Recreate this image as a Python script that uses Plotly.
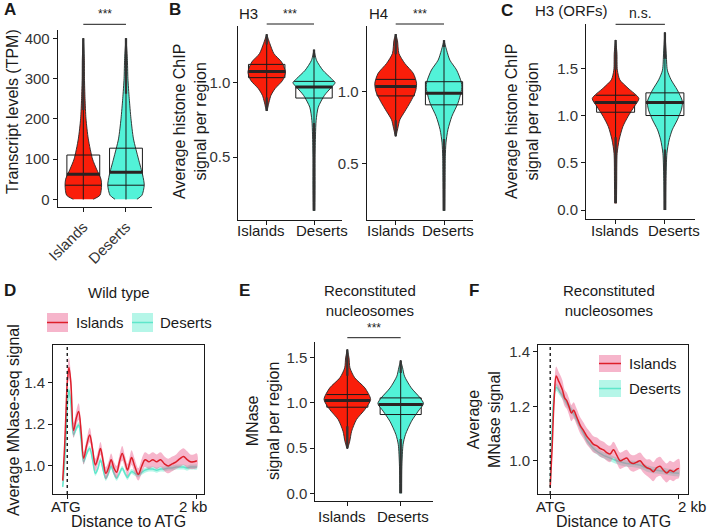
import numpy as np
import plotly.graph_objects as go

W, H = 709, 529
FONT = "Liberation Sans, Arial, sans-serif"
RED = "#FA1E0A"
TEAL = "#52F2D8"
LRED = "#DD1F2A"
LTEAL = "#5FE6CB"
RIB_RED = "rgba(236,90,140,0.45)"
RIB_TEAL = "rgba(90,235,205,0.45)"

CATS = ["Islands", "Deserts"]
PROFILE_TICKS = ["ATG", "2 kb"]

# ---------------- Panel A : transcript levels ----------------
A_ISL_Y = [0, 10, 35, 50, 75, 100, 150, 200, 250, 300, 350, 400]
A_ISL_DENS = [0.52, 0.87, 0.95, 0.92, 0.69, 0.48, 0.26, 0.14, 0.09, 0.06, 0.05, 0.0]
A_DES_Y = [0, 10, 35, 60, 100, 150, 200, 250, 300, 350, 400]
A_DES_DENS = [0.57, 0.83, 0.95, 0.87, 0.65, 0.39, 0.26, 0.17, 0.10, 0.07, 0.0]
# [min, lower fence, q1, median, q3, upper fence, max]
A_ISL_BOX = [0, 0, 35, 62, 110, 222, 400]
A_DES_BOX = [0, 0, 35, 67, 127, 262, 400]

# ---------------- Panel B : H3 ----------------
H3_ISL_Y = [0.81, 0.87, 0.915, 0.96, 1.016, 1.072, 1.139, 1.195, 1.262, 1.325]
H3_ISL_DENS = [0.0, 0.11, 0.20, 0.39, 0.75, 0.88, 0.70, 0.34, 0.15, 0.0]
H3_DES_Y = [0.141, 0.3, 0.5, 0.65, 0.747, 0.836, 0.915, 0.97, 1.0, 1.027, 1.083, 1.15, 1.222]
H3_DES_DENS = [0.04, 0.05, 0.05, 0.07, 0.10, 0.20, 0.49, 0.82, 0.99, 0.82, 0.42, 0.12, 0.0]
H3_ISL_BOX = [0.81, 0.90, 1.034, 1.076, 1.123, 1.257, 1.325]
H3_DES_BOX = [0.141, 0.73, 0.897, 0.971, 1.009, 1.17, 1.222]

# ---------------- Panel B : H4 ----------------
H4_ISL_Y = [0.689, 0.747, 0.804, 0.862, 0.931, 1.0, 1.058, 1.127, 1.196, 1.265, 1.357, 1.40]
H4_ISL_DENS = [0.0, 0.10, 0.19, 0.42, 0.69, 0.91, 0.96, 0.81, 0.42, 0.15, 0.08, 0.0]
H4_DES_Y = [0.171, 0.4, 0.55, 0.643, 0.735, 0.827, 0.919, 1.0, 1.03, 1.069, 1.15, 1.219, 1.288, 1.357]
H4_DES_DENS = [0.04, 0.05, 0.06, 0.09, 0.18, 0.36, 0.64, 0.79, 0.82, 0.79, 0.58, 0.27, 0.12, 0.0]
H4_ISL_BOX = [0.689, 0.80, 0.97, 1.035, 1.085, 1.26, 1.40]
H4_DES_BOX = [0.171, 0.67, 0.908, 0.988, 1.069, 1.31, 1.357]

# ---------------- Panel C : H3 (ORFs) ----------------
C_ISL_Y = [0.072, 0.3, 0.6, 0.742, 0.884, 0.99, 1.095, 1.18, 1.29, 1.378, 1.48, 1.66, 1.80]
C_ISL_DENS = [0.04, 0.05, 0.07, 0.16, 0.33, 0.56, 0.84, 1.05, 0.56, 0.19, 0.08, 0.06, 0.0]
C_DES_Y = [0.0, 0.3, 0.6, 0.742, 0.848, 0.954, 1.06, 1.148, 1.27, 1.378, 1.48, 1.66, 1.88]
C_DES_DENS = [0.04, 0.05, 0.09, 0.19, 0.33, 0.56, 0.74, 0.79, 0.56, 0.28, 0.11, 0.06, 0.0]
C_ISL_BOX = [0.072, 0.77, 1.035, 1.138, 1.215, 1.485, 1.80]
C_DES_BOX = [0.0, 0.64, 1.0, 1.138, 1.24, 1.60, 1.88]

# ---------------- Panel E : reconstituted nucleosomes ----------------
E_ISL_Y = [0.494, 0.576, 0.686, 0.815, 0.926, 1.037, 1.166, 1.277, 1.387, 1.498, 1.59]
E_ISL_DENS = [0.0, 0.10, 0.18, 0.38, 0.73, 0.97, 0.73, 0.31, 0.11, 0.07, 0.0]
E_DES_Y = [0.0, 0.3, 0.54, 0.65, 0.797, 0.908, 0.993, 1.055, 1.166, 1.295, 1.387, 1.469]
E_DES_DENS = [0.04, 0.05, 0.10, 0.20, 0.45, 0.73, 0.95, 0.81, 0.44, 0.16, 0.08, 0.0]
E_ISL_BOX = [0.494, 0.74, 0.952, 1.026, 1.092, 1.30, 1.59]
E_DES_BOX = [0.0, 0.60, 0.871, 0.982, 1.055, 1.33, 1.469]

# ---------------- Panel D : wild type MNase profile ----------------
D_X = [-70, -40, -15, 0, 26, 55, 98, 140, 176, 215, 253, 300, 346, 390, 434, 475, 512, 555, 595,
       636, 677, 720, 762, 805, 848, 890, 930, 960, 993, 1040, 1096, 1150, 1200, 1260, 1320, 1380,
       1440, 1500, 1560, 1620, 1680, 1740, 1794, 1850, 1900, 1950, 2000]
D_ISL = [0.93, 1.10, 1.30, 1.40, 1.47, 1.40, 1.17, 1.23, 1.26, 1.16, 1.037, 1.10, 1.148, 1.08,
         1.005, 1.04, 1.084, 1.02, 0.965, 0.99, 1.03, 0.99, 0.97, 1.02, 1.06, 1.02, 0.98, 1.01,
         1.04, 1.0, 0.96, 1.0, 1.03, 1.02, 1.03, 1.02, 1.03, 1.01, 1.0, 1.01, 1.02, 1.035, 1.045,
         1.03, 1.02, 1.02, 1.025]
D_ISL_SE = [0.02, 0.03, 0.04, 0.045, 0.05, 0.045, 0.035, 0.035, 0.04, 0.035, 0.03, 0.03, 0.035,
            0.03, 0.03, 0.03, 0.03, 0.03, 0.03, 0.03, 0.03, 0.03, 0.03, 0.03, 0.035, 0.03, 0.03,
            0.03, 0.035, 0.035, 0.03, 0.035, 0.035, 0.035, 0.035, 0.035, 0.035, 0.035, 0.035,
            0.035, 0.035, 0.04, 0.04, 0.04, 0.035, 0.035, 0.035]
D_DES = [0.90, 1.02, 1.18, 1.28, 1.363, 1.30, 1.15, 1.18, 1.196, 1.12, 1.02, 1.06, 1.084, 1.03,
         0.965, 0.99, 1.029, 0.98, 0.941, 0.965, 0.997, 0.965, 0.941, 0.965, 0.989, 0.965, 0.945,
         0.96, 0.973, 0.965, 0.957, 0.97, 0.98, 0.985, 0.985, 0.98, 0.985, 0.985, 0.99, 0.99,
         0.995, 0.995, 0.995, 0.99, 0.995, 0.995, 0.995]
D_DES_SE = [0.01, 0.012, 0.014, 0.015, 0.016, 0.015, 0.013, 0.013, 0.013, 0.012, 0.012, 0.012,
            0.012, 0.012, 0.012, 0.012, 0.012, 0.012, 0.012, 0.012, 0.012, 0.012, 0.012, 0.012,
            0.012, 0.012, 0.012, 0.012, 0.012, 0.012, 0.012, 0.012, 0.012, 0.012, 0.012, 0.012,
            0.012, 0.012, 0.012, 0.012, 0.012, 0.012, 0.012, 0.012, 0.012, 0.012, 0.012]

# ---------------- Panel F : reconstituted MNase profile ----------------
F_X = [0, 30, 60, 93, 125, 155, 190, 225, 258, 290, 330, 362, 413, 465, 520, 568, 620, 672, 725,
       775, 828, 878, 930, 982, 1035, 1085, 1135, 1189, 1240, 1292, 1345, 1395, 1450, 1499, 1550,
       1602, 1655, 1705, 1760, 1809, 1860, 1912, 1960, 2000]
F_ISL = [0.905, 1.05, 1.22, 1.311, 1.295, 1.28, 1.26, 1.23, 1.22, 1.20, 1.175, 1.185, 1.16, 1.13,
         1.11, 1.09, 1.075, 1.06, 1.055, 1.045, 1.04, 1.03, 1.025, 1.04, 1.02, 1.0, 1.005, 1.01,
         0.995, 0.99, 0.995, 1.0, 0.985, 0.975, 0.97, 0.96, 0.975, 0.98, 0.965, 0.955, 0.965,
         0.96, 0.968, 0.972]
F_ISL_SE = [0.01, 0.02, 0.03, 0.035, 0.035, 0.035, 0.035, 0.03, 0.03, 0.03, 0.03, 0.03, 0.03,
            0.03, 0.03, 0.03, 0.03, 0.03, 0.03, 0.03, 0.03, 0.03, 0.03, 0.03, 0.03, 0.03, 0.03,
            0.03, 0.03, 0.03, 0.03, 0.03, 0.03, 0.03, 0.035, 0.035, 0.035, 0.035, 0.035, 0.035,
            0.035, 0.035, 0.035, 0.035]
F_DES = [0.905, 1.12, 1.24, 1.27, 1.262, 1.25, 1.24, 1.225, 1.21, 1.2, 1.185, 1.174, 1.15, 1.125,
         1.10, 1.076, 1.06, 1.045, 1.035, 1.027, 1.02, 1.015, 1.01, 1.005, 1.0, 0.996, 0.993, 0.99,
         0.989, 0.988, 0.986, 0.984, 0.978, 0.972, 0.969, 0.966, 0.965, 0.963, 0.962, 0.96, 0.958,
         0.956, 0.955, 0.954]
F_DES_SE = [0.008, 0.012, 0.013, 0.014, 0.014, 0.013, 0.013, 0.013, 0.013, 0.012, 0.012, 0.012,
            0.012, 0.012, 0.012, 0.012, 0.012, 0.012, 0.012, 0.012, 0.012, 0.012, 0.012, 0.012,
            0.012, 0.012, 0.012, 0.012, 0.012, 0.012, 0.012, 0.012, 0.012, 0.012, 0.012, 0.012,
            0.012, 0.012, 0.012, 0.012, 0.012, 0.012, 0.012, 0.012]


def fx(p):
    return p / W


def fy(p):
    return 1 - p / H


fig = go.Figure()
shapes = []
annotations = []

AX_LINE = "#1a1a1a"
TICKFONT = dict(family=FONT, size=15, color="#333333")


def base_axis():
    return dict(showline=True, linecolor=AX_LINE, linewidth=1, ticks="outside", ticklen=4,
                tickwidth=1, tickcolor=AX_LINE, showgrid=False, zeroline=False,
                automargin=False, tickfont=TICKFONT)


def add_violin(n, pos, ys, dens, boxstats, color):
    xa = "x" if n == 1 else f"x{n}"
    ya = "y" if n == 1 else f"y{n}"
    ys = np.array(ys, float)
    hw = 0.45 * np.array(dens, float)
    xs = np.concatenate([pos + hw, (pos - hw)[::-1]])
    yy = np.concatenate([ys, ys[::-1]])
    fig.add_trace(go.Scatter(x=xs, y=yy, mode="lines", fill="toself", fillcolor=color,
                             line=dict(color="#262626", width=0.9, shape="spline", smoothing=0.7),
                             xaxis=xa, yaxis=ya, hoverinfo="skip", showlegend=False))
    mn, lf, q1, med, q3, uf, mx = boxstats
    fig.add_trace(go.Scatter(x=[pos, pos], y=[mn, mx], mode="lines",
                             line=dict(color="#1a1a1a", width=1), xaxis=xa, yaxis=ya,
                             hoverinfo="skip", showlegend=False))
    fig.add_trace(go.Box(x=[pos], q1=[q1], median=[med], q3=[q3], lowerfence=[lf],
                         upperfence=[uf], width=0.77, fillcolor="rgba(0,0,0,0)",
                         line=dict(color="#1a1a1a", width=1), whiskerwidth=0,
                         boxpoints=False, xaxis=xa, yaxis=ya, hoverinfo="skip",
                         showlegend=False))
    for q, wdt, col in [(q1, 1, "#1a1a1a"), (q3, 1, "#1a1a1a"), (med, 3, "#2b2222")]:
        h = float(np.interp(q, ys, hw))
        if q == med:
            h = max(h, 0.385)
        fig.add_trace(go.Scatter(x=[pos - h, pos + h], y=[q, q], mode="lines",
                                 line=dict(color=col, width=wdt), xaxis=xa, yaxis=ya,
                                 hoverinfo="skip", showlegend=False))
    for a, b in [(mn, lf), (uf, mx)]:
        if b - a > 0:
            fig.add_trace(go.Scatter(x=[pos, pos], y=[a, b], mode="lines",
                                     line=dict(color="#333333", width=2.3), xaxis=xa, yaxis=ya,
                                     hoverinfo="skip", showlegend=False))


layout_axes = {}


def violin_axes(n, xd, yd, yr, ytv, yfmt, tickangle=0, labels=True):
    xk = "xaxis" if n == 1 else f"xaxis{n}"
    yk = "yaxis" if n == 1 else f"yaxis{n}"
    xa = base_axis()
    xa.update(domain=[fx(xd[0]), fx(xd[1])], range=[0.4, 2.6], anchor=("y" if n == 1 else f"y{n}"),
              tickvals=[1, 2], ticktext=CATS, tickangle=tickangle, showticklabels=labels)
    ya = base_axis()
    ya.update(domain=[fy(yd[1]), fy(yd[0])], range=yr, anchor=("x" if n == 1 else f"x{n}"),
              tickvals=ytv, tickformat=yfmt)
    layout_axes[xk] = xa
    layout_axes[yk] = ya


def sig(n, text, ypx, size):
    xr = "x" if n == 1 else f"x{n}"
    shapes.append(dict(type="line", xref=xr, yref="paper", x0=1, x1=2, y0=fy(ypx), y1=fy(ypx),
                       line=dict(color="#1a1a1a", width=1)))
    annotations.append(dict(text=text, xref=xr, yref="paper", x=1.5, y=fy(ypx - 1),
                            xanchor="center", yanchor="bottom", showarrow=False,
                            font=dict(family=FONT, size=size, color="#222")))


def ann(text, xp, yp, size=15, xanchor="center", angle=0, bold=False, color="#1a1a1a"):
    if bold:
        text = f"<b>{text}</b>"
    annotations.append(dict(text=text, xref="paper", yref="paper", x=fx(xp), y=fy(yp),
                            xanchor=xanchor, yanchor="middle", showarrow=False, textangle=angle,
                            font=dict(family=FONT, size=size, color=color)))


violin_axes(1, (57.7, 151.6), (30.25, 207.35), [-20, 420], [0, 100, 200, 300, 400], "d", -45)
add_violin(1, 1, A_ISL_Y, A_ISL_DENS, A_ISL_BOX, RED)
add_violin(1, 2, A_DES_Y, A_DES_DENS, A_DES_BOX, TEAL)
sig(1, "***", 24.3, 12)

violin_axes(2, (238.3, 342.4), (25.5, 219.5), [0.082, 1.384], [0.5, 1.0], ".1f", labels=False)
add_violin(2, 1, H3_ISL_Y, H3_ISL_DENS, H3_ISL_BOX, RED)
add_violin(2, 2, H3_DES_Y, H3_DES_DENS, H3_DES_BOX, TEAL)
sig(2, "***", 24, 12)

violin_axes(3, (366.7, 473), (25.5, 219.5), [0.11, 1.46], [0.5, 1.0], ".1f", labels=False)
add_violin(3, 1, H4_ISL_Y, H4_ISL_DENS, H4_ISL_BOX, RED)
add_violin(3, 2, H4_DES_Y, H4_DES_DENS, H4_DES_BOX, TEAL)
sig(3, "***", 24, 12)

violin_axes(4, (586, 694.5), (23.5, 218.9), [-0.094, 1.974], [0.0, 0.5, 1.0, 1.5], ".1f",
            labels=False)
add_violin(4, 1, C_ISL_Y, C_ISL_DENS, C_ISL_BOX, RED)
add_violin(4, 2, C_DES_Y, C_DES_DENS, C_DES_BOX, TEAL)
sig(4, "n.s.", 24.3, 14)

violin_axes(6, (315.3, 432.7), (342.3, 500.5), [-0.08, 1.67], [0.0, 0.5, 1.0, 1.5], ".1f",
            labels=False)
add_violin(6, 1, E_ISL_Y, E_ISL_DENS, E_ISL_BOX, RED)
add_violin(6, 2, E_DES_Y, E_DES_DENS, E_DES_BOX, TEAL)
sig(6, "***", 337.7, 12)

# category labels (placed as in the figure)
for (xi, xd_, yy) in [(261, 322, 231), (391, 448, 231), (615, 674, 231), (342, 403, 516.5)]:
    ann(CATS[0], xi, yy, 15)
    ann(CATS[1], xd_, yy, 15)


def profile_axes(n, xd, yd, xr, yr):
    xa = base_axis()
    xa.update(domain=[fx(xd[0]), fx(xd[1])], range=xr, anchor=f"y{n}", tickvals=[0, 2000],
              ticktext=PROFILE_TICKS, mirror=True, showticklabels=False)
    ya = base_axis()
    ya.update(domain=[fy(yd[1]), fy(yd[0])], range=yr, anchor=f"x{n}", tickvals=[1.0, 1.2, 1.4],
              tickformat=".1f", mirror=True)
    layout_axes[f"xaxis{n}"] = xa
    layout_axes[f"yaxis{n}"] = ya
    shapes.append(dict(type="line", xref=f"x{n}", yref=f"y{n} domain", x0=0, x1=0, y0=0, y1=1,
                       line=dict(color="#1a1a1a", width=1.4, dash="dot")))


def add_profile(n, xs, ys, se, rib, col):
    xs = np.array(xs, float)
    ys = np.array(ys, float)
    se = np.array(se, float)
    fig.add_trace(go.Scatter(x=np.concatenate([xs, xs[::-1]]),
                             y=np.concatenate([ys + se, (ys - se)[::-1]]),
                             mode="lines", fill="toself", fillcolor=rib,
                             line=dict(width=0, shape="spline", smoothing=1.0),
                             xaxis=f"x{n}", yaxis=f"y{n}", hoverinfo="skip", showlegend=False))
    fig.add_trace(go.Scatter(x=xs, y=ys, mode="lines",
                             line=dict(color=col, width=1.5, shape="spline", smoothing=1.0),
                             xaxis=f"x{n}", yaxis=f"y{n}", hoverinfo="skip", showlegend=False))


profile_axes(5, (53, 204), (345, 494), [-220, 2110], [0.866, 1.578])
add_profile(5, D_X, D_DES, D_DES_SE, RIB_TEAL, LTEAL)
add_profile(5, D_X, D_ISL, D_ISL_SE, RIB_RED, LRED)

profile_axes(7, (538, 688), (345, 494), [-190, 2140], [0.878, 1.425])
add_profile(7, F_X, F_DES, F_DES_SE, RIB_TEAL, LTEAL)
add_profile(7, F_X, F_ISL, F_ISL_SE, RIB_RED, LRED)

# profile x tick labels
ann(PROFILE_TICKS[0], 66, 506.5, 15)
ann(PROFILE_TICKS[1], 192.5, 506.5, 15)
ann(PROFILE_TICKS[0], 551, 506.5, 15)
ann(PROFILE_TICKS[1], 692, 506.5, 15)


def legend_key(x0, x1, y0, y1, rib, col):
    shapes.append(dict(type="rect", xref="paper", yref="paper", x0=fx(x0), x1=fx(x1),
                       y0=fy(y1), y1=fy(y0), fillcolor=rib, line=dict(width=0)))
    ym = (y0 + y1) / 2
    shapes.append(dict(type="line", xref="paper", yref="paper", x0=fx(x0), x1=fx(x1),
                       y0=fy(ym), y1=fy(ym), line=dict(color=col, width=1.5)))


legend_key(47, 68, 313, 332, RIB_RED, LRED)
ann(CATS[0], 74, 322, 15, "left")
legend_key(132, 153, 313, 332, RIB_TEAL, LTEAL)
ann(CATS[1], 158, 322, 15, "left")

legend_key(599, 621, 355, 372, RIB_RED, LRED)
ann(CATS[0], 627, 363, 15, "left")
legend_key(599, 621, 380, 397, RIB_TEAL, LTEAL)
ann(CATS[1], 627, 388, 15, "left")

ann("A", 2, 10, 17, "left", bold=True)
ann("B", 167, 10, 17, "left", bold=True)
ann("C", 499, 11, 17, "left", bold=True)
ann("D", 2, 290, 17, "left", bold=True)
ann("E", 237, 290, 17, "left", bold=True)
ann("F", 467, 290, 17, "left", bold=True)

ann("H3", 237, 13, 15, "left")
ann("H4", 367, 13, 15, "left")
ann("H3 (ORFs)", 533, 11, 15, "left")
ann("Wild type", 119, 292, 15)
ann("Reconstituted<br>nucleosomes", 370, 300, 15)
ann("Reconstituted<br>nucleosomes", 609, 300, 15)

ann("Transcript levels (TPM)", 12, 112, 16, angle=-90)
ann("Average histone ChIP<br>signal per region", 190, 122, 16, angle=-90)
ann("Average histone ChIP<br>signal per region", 522, 122, 16, angle=-90)
ann("Average MNase-seq signal", 13, 420, 16, angle=-90)
ann("MNase<br>signal per region", 263, 421, 16, angle=-90)
ann("Average<br>MNase signal", 484, 420, 16, angle=-90)
ann("Distance to ATG", 128.5, 521, 16)
ann("Distance to ATG", 613, 521, 16)

fig.update_layout(template="none", width=W, height=H, margin=dict(l=0, r=0, t=0, b=0),
                  paper_bgcolor="white", plot_bgcolor="white", boxmode="overlay",
                  showlegend=False, font=dict(family=FONT, size=15, color="#1a1a1a"),
                  shapes=shapes, annotations=annotations, **layout_axes)

fig.write_html("out.html", config={"displayModeBar": False},
               post_script="document.body.style.margin='0';document.body.style.overflow='hidden';")
